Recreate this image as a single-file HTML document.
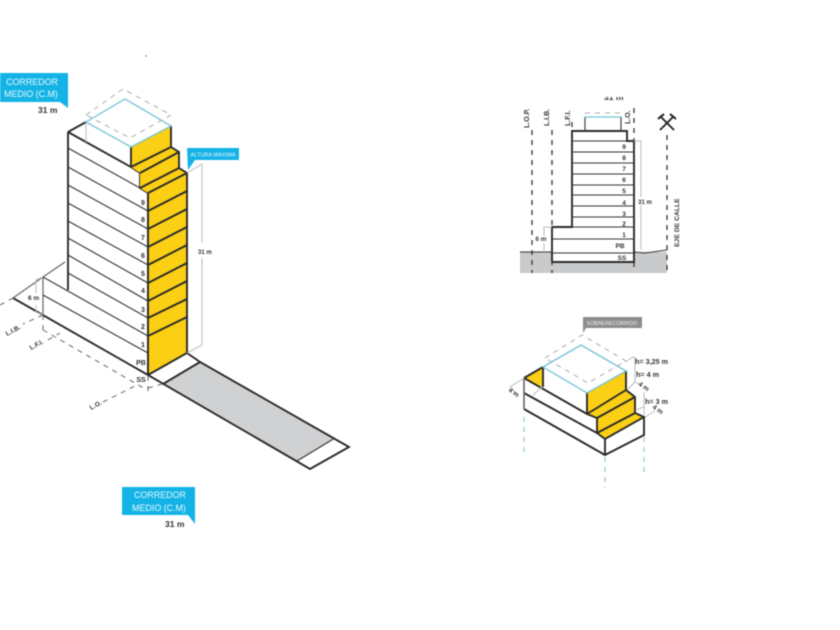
<!DOCTYPE html>
<html><head><meta charset="utf-8"><style>
html,body{margin:0;padding:0;background:#fff;width:840px;height:630px;overflow:hidden}
svg{display:block}
#m{filter:blur(.5px)}
text{font-family:"Liberation Sans",sans-serif;fill:#333;font-weight:bold}
.k{stroke:#333;fill:none;stroke-width:1.1}
.t{stroke:#2a2a2a;fill:none;stroke-width:1.9}
.g{stroke:#bbb;fill:none;stroke-width:1}
.d{stroke:#666;fill:none;stroke-width:1;stroke-dasharray:5 5}
.dg{stroke:#aaa;fill:none;stroke-width:1;stroke-dasharray:5 5}
.dc{stroke:#8fc8d8;fill:none;stroke-width:1.2;stroke-dasharray:5 5}
.dk{stroke:#333;fill:none;stroke-width:1.3;stroke-dasharray:5 5}
.c{stroke:#6fc4d4;fill:none;stroke-width:1.3}
.y{fill:#fbcf14}
.w{fill:#fff;font-weight:normal;fill-opacity:.9}
</style></head><body>
<svg id="m" width="840" height="630" viewBox="0 0 840 630" xmlns="http://www.w3.org/2000/svg">

<!-- road -->
<polygon points="163,384 200,362 335,438 297,461" fill="#d0d1d2"/>
<path class="t" stroke-width="1.6" d="M13,298 L148,375 L310,469 L349,447 L200,362 L187,353"/>
<path class="t" d="M163,384 L200,362"/>
<path class="k" d="M297,461 L335,438"/>

<!-- tower left face -->
<polygon points="68,132 131,167 140,173 140,188 148,193 148,336 68,291" fill="#fff"/>
<path class="k" d="M68,148 L140,188 M68,167 L148,211 M68,185 L148,229 M68,203 L148,247 M68,221 L148,265 M68,238 L148,283 M68,255 L148,301 M68,273 L148,318"/>
<path class="t" d="M68,132 L68,290"/>
<path class="t" d="M68,132 L131,167 L140,173 L140,188 L148,193 L148,375"/>
<path class="t" d="M68,132 L86,122"/>
<path class="g" d="M86,122 L86,142" stroke-width="1.4"/>

<!-- podium -->
<path d="M43,277 L65,262 M43,277 L13,298 M43,277 L43,315" stroke="#666" stroke-width="1.2" fill="none"/>
<path class="k" d="M43,277 L148,336 M43,295 L148,353"/>

<!-- yellow tower -->
<polygon class="y" points="131,147 171,126 171,147 179,152 179,168 187,173 187,353 148,375 148,193 140,188 140,173 131,167"/>
<path class="t" d="M131,147 L131,167 M171,126 L171,147 L179,152 L179,168 L187,173 L187,353 L148,375 M148,193 L187,173"/>
<path class="t" stroke-width="1.4" d="M131,167 L171,147 M140,173 L179,152 M140,188 L179,168 M148,211 L187,191 M148,229 L187,209 M148,247 L187,227 M148,265 L187,245 M148,283 L187,263 M148,301 L187,281 M148,318 L187,299 M148,336 L187,317"/>
<path class="t" d="M148,193 L148,375"/>

<!-- roof -->
<polygon points="86,122 125,99 171,126 131,147" fill="#fff"/>
<path class="c" d="M86,122 L125,99 L171,126 L131,147 Z"/>
<path class="dg" d="M86,115 L123,89 L171,115 L130,138 L86,115"/>

<!-- dim right -->
<path class="g" stroke-width="1.3" d="M187,173 L202,164 L202,243 M202,258 L202,345 L187,353"/>
<text x="198" y="254" font-size="6">31 m</text>

<!-- floor numbers -->
<g font-size="7" text-anchor="middle">
<text x="143" y="205">9</text><text x="143" y="222">8</text><text x="143" y="240">7</text><text x="143" y="258">6</text>
<text x="143" y="276">5</text><text x="143" y="293">4</text><text x="143" y="312">3</text><text x="143" y="329">2</text><text x="143" y="347">1</text>
<text x="141" y="365">PB</text><text x="141" y="382">SS</text>
</g>

<!-- iso dims -->
<path class="g" stroke-width="1.3" d="M43,277 L36,280 L36,293 M36,305 L36,312 L43,315"/>
<text x="28" y="300" font-size="6.5">6 m</text>
<path class="d" d="M0,305 L13,298 M43,315 L23,324 M43,315 L43,332 M43,330 L147,390 M48,340 L60,333 M103,402 L137,385 M148,376 L148,392 M148,388 L162,384"/>
<g font-size="6.5">
<text transform="translate(7,336) rotate(-28)">L.I.B.</text>
<text transform="translate(31,350) rotate(-28)">L.F.I.</text>
<text transform="translate(91,410) rotate(-28)">L.O.</text>
</g>

<!-- top-left label -->
<path d="M0,73 H68 V108 L60,102 H0 Z" fill="#14b3e6"/>
<text class="w" x="32" y="85" font-size="8.9" text-anchor="middle">CORREDOR</text>
<text class="w" x="31" y="97" font-size="8.9" text-anchor="middle">MEDIO (C.M)</text>
<text x="38" y="113" font-size="8.5">31 m</text>

<!-- altura -->
<path d="M187,148 H239 V160 H195 L188,170 Z" fill="#14b3e6"/>
<text class="w" x="213" y="156.500" font-size="5.6" text-anchor="middle">ALTURA MÁXIMA</text>

<!-- bottom label -->
<path d="M122,487 H195 V524 L188,515 H122 Z" fill="#14b3e6"/>
<text class="w" x="160" y="498" font-size="8.9" text-anchor="middle">CORREDOR</text>
<text class="w" x="159" y="511" font-size="8.9" text-anchor="middle">MEDIO (C.M)</text>
<text x="165" y="527" font-size="8.5">31 m</text>

<!-- elevation -->
<rect x="520" y="252" width="147" height="21" fill="#c9cacb"/>
<rect x="552" y="227" width="82" height="35" fill="#fff"/>
<path class="k" stroke-width="1.2" d="M520,252 H552 M634,252 L645,253 L667,250"/>
<path class="t" stroke-width="1.5" d="M552,262 V227 H572 V131 H627 V141 H634 V262 H552"/>
<path class="k" d="M572,141 H634 M572,152 H634 M572,163 H634 M572,174 H634 M572,185 H634 M572,195 H634 M572,206 H634 M572,217 H634 M572,227 H634 M552,239 H634 M552,253 H634"/>
<path class="k" stroke-width="1.5" d="M585,131 V117 M621,131 V117"/>
<path class="c" d="M585,117 H621"/>
<path class="dg" d="M585,113 H621"/>
<path class="dk" d="M532,130 V273 M552,130 V273 M572,122 V131 M634,108 V141 M634,262 V268 M667,135 V273"/>
<path class="g" d="M634,141 H641 V197 M641,205 V250 M552,227 H544 V236 M544,243 V252"/>
<g font-size="6.5" text-anchor="middle">
<text x="624" y="149">9</text><text x="624" y="160">8</text><text x="624" y="171">7</text><text x="624" y="182">6</text>
<text x="624" y="193">5</text><text x="624" y="205">4</text><text x="624" y="216">3</text><text x="624" y="226">2</text><text x="624" y="237">1</text>
<text x="620" y="248">PB</text><text x="622" y="260">SS</text>
</g>
<text x="645" y="204" font-size="6" text-anchor="middle">31 m</text>
<text x="541" y="241" font-size="6.5" text-anchor="middle">6 m</text>
<g font-size="7">
<text transform="translate(529,128) rotate(-90)">L.O.P.</text>
<text transform="translate(549,126) rotate(-90)">L.I.B.</text>
<text transform="translate(570,126) rotate(-90)">L.F.I.</text>
<text transform="translate(630,124) rotate(-90)">L.O.</text>
<text transform="translate(679,247) rotate(-90)" font-size="6.8">EJE DE CALLE</text>
</g>
<svg x="600" y="97" width="30" height="6"><text x="4" y="3" font-size="8.5">31 m</text></svg>
<path d="M660,116 L674,130 M674,116 L660,130" stroke="#222" stroke-width="1.8" fill="none"/>
<path d="M658,119 L664,114 M676,119 L670,114" stroke="#222" stroke-width="2" fill="none"/>

<!-- lower iso -->
<polygon points="524,378 543,367 543,387" class="y"/>
<polygon class="y" points="587,393 626,371 626,390 635,397 635,413 644,417 605,439 597,433 597,418 587,414"/>
<polygon points="605,439 644,417 644,435 605,455" fill="#fff"/>
<path class="t" stroke-width="1.6" d="M524,409 L605,455 L644,435 V417 M605,439 V455 M524,378 L587,414 M524,393 L597,433 L605,439 L644,417 L635,413 V397 L626,390 V371 M587,393 V414 L597,418 V433 M587,414 L626,390 M597,418 L635,397 M597,433 L635,413 M543,367 V387 M524,378 L543,367"/>
<path d="M524,378 V409" stroke="#666" stroke-width="1.6" fill="none"/>
<path class="c" stroke-width="1.4" d="M543,367 L581,345 L626,371 L587,393 Z"/>
<path class="dg" d="M545,358 L582,335 L626,361 L588,383 L545,358"/>
<path class="g" d="M524,378 L510,387 L516,393 M533,395 L542,387 M625,362 L633,357 L635,358 M635,357 V382 L627,390 M635,382 L642,386 M644,392 V415 M637,410 L643,407 M645,417 L655,411"/>
<path class="dc" d="M524,417 V452 M605,457 V488 M644,437 V475"/>

<path d="M583,317 H642 V328 H586 L583,333 Z" fill="#8c8c8c"/>
<text class="w" x="612" y="325" font-size="5.3" text-anchor="middle">SOBRERECORRIDO</text>
<g font-size="7.2">
<text x="635" y="364">h= 3,25 m</text>
<text x="636" y="377">h= 4 m</text>
<text x="645" y="404">h= 3 m</text>
</g>
<g font-size="6.5">
<text transform="translate(638,385) rotate(35)">4 m</text>
<text transform="translate(652,408) rotate(35)">4 m</text>
<text transform="translate(508,391) rotate(35)">4 m</text>
</g>
<circle cx="146" cy="56" r=".7" fill="#666"/>
</svg>
</body></html>
